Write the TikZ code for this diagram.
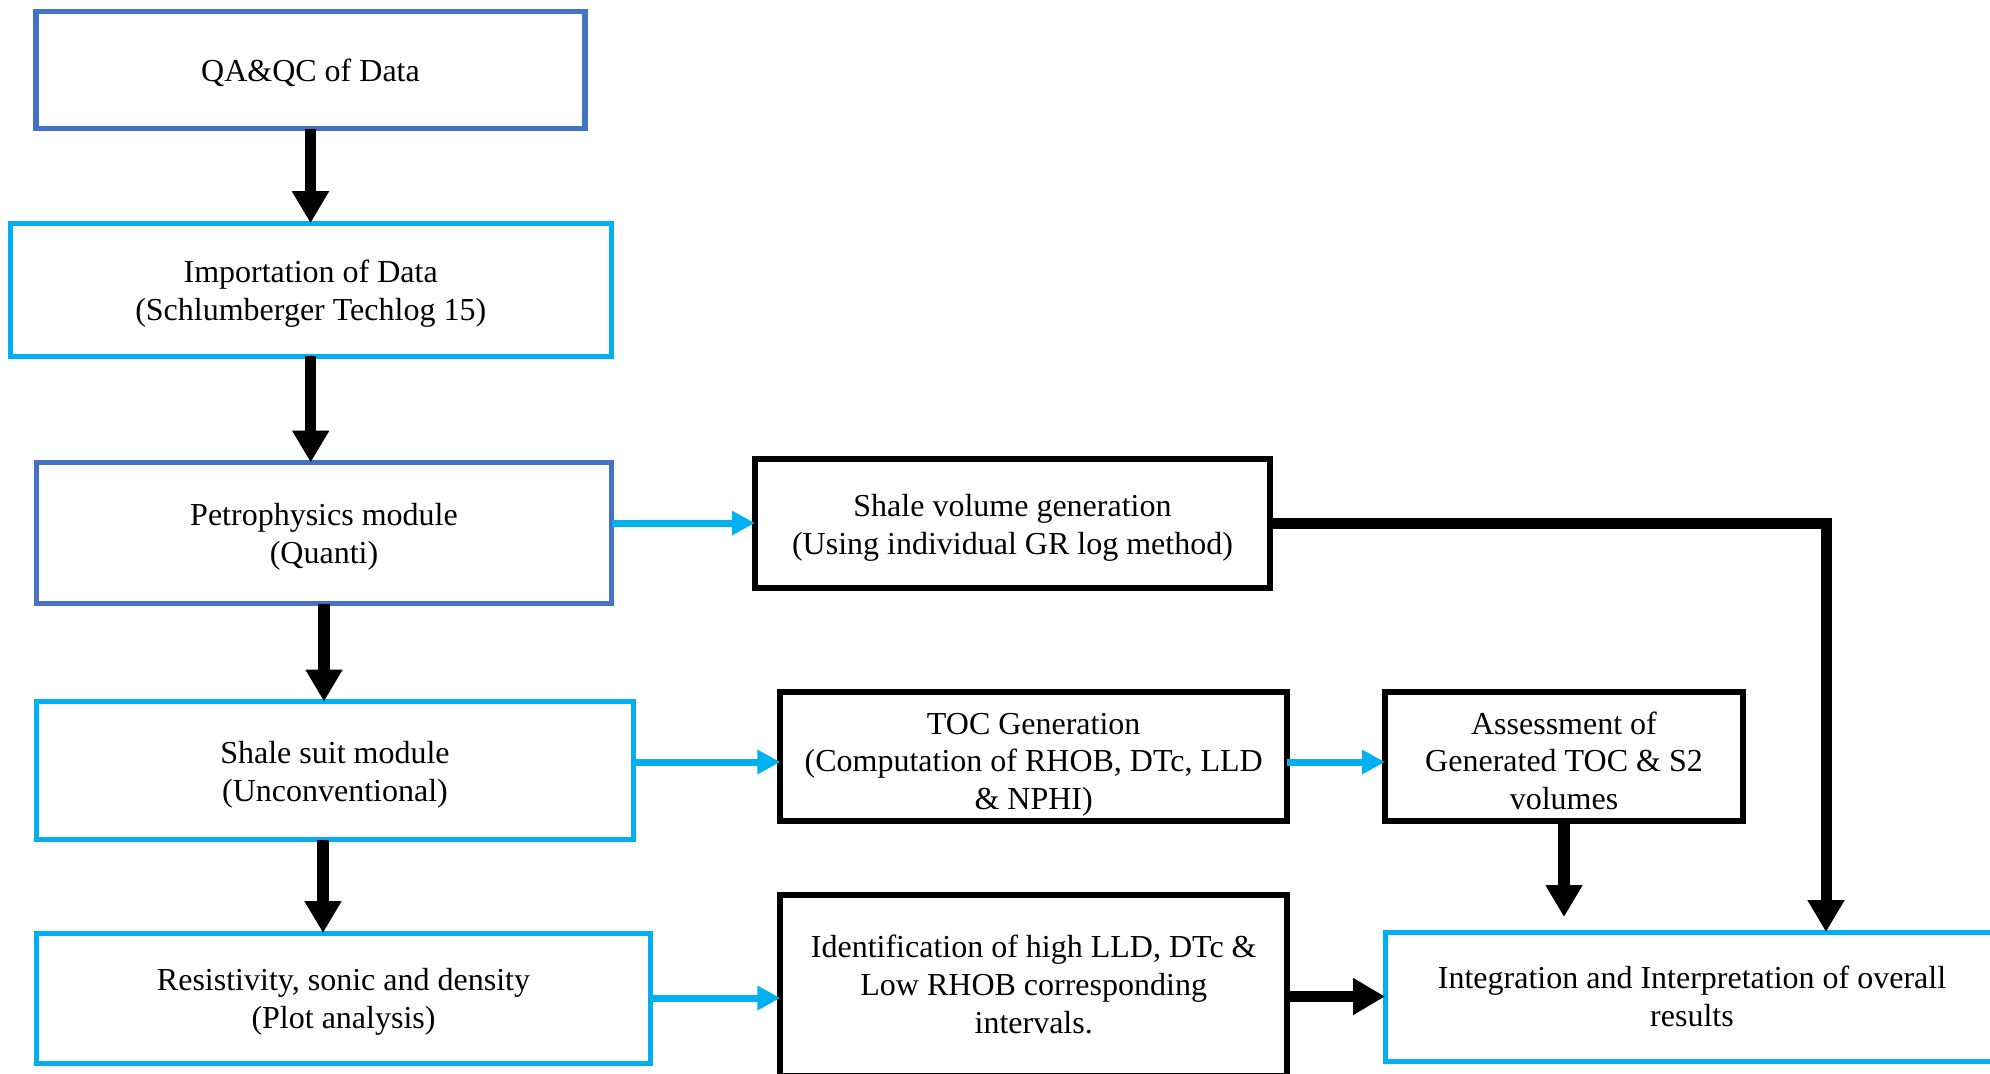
\documentclass[tikz,border=0pt]{standalone}
\usepackage{fontspec}
\setmainfont{Liberation Serif}
\usetikzlibrary{arrows.meta,calc}
\definecolor{qablue}{HTML}{4472C4}
\definecolor{skyblue}{HTML}{00B0F0}
% #1: height of the first baseline above the box centre
\newcommand\btext[2]{\raisebox{#1}[0pt][0pt]{\begin{tabular}[t]{@{}c@{}}#2\end{tabular}}}
\begin{document}
\begin{tikzpicture}[x=0.5pt,y=-0.5pt,
  box/.style={draw, rectangle, inner sep=0pt, outer sep=0pt,
    font=\fontsize{16pt}{18.9pt}\selectfont, line join=miter},
  darkbox/.style={box, draw=qablue, line width=2.75pt},
  lightbox/.style={box, draw=skyblue, line width=2.5pt},
  blackbox/.style={box, draw=black, line width=3pt},
  bigarrow/.style={draw=black, line width=5.75pt, line join=miter, -{Triangle[length=16pt,width=17.5pt]}},
  bluearrow/.style={draw=skyblue, line width=3.5pt, -{Triangle[length=11.5pt,width=11.5pt]}}]
\useasboundingbox (0,0) rectangle (1990,1073);
\clip (0,0) rectangle (1990,1073);
\node[darkbox, minimum width=274.5pt, minimum height=58.5pt] (qa) at (310.5,70) {\btext{-5.9pt}{QA\&QC of Data}};
\node[lightbox, minimum width=300.5pt, minimum height=66.5pt] (imp) at (310.7,289.7) {\btext{3.5pt}{Importation of Data\\(Schlumberger Techlog 15)}};
\node[darkbox, minimum width=287.5pt, minimum height=70.5pt] (petro) at (324,533) {\btext{3.7pt}{Petrophysics module\\(Quanti)}};
\node[lightbox, minimum width=298.5pt, minimum height=69pt] (shale) at (335,770.5) {\btext{3.6pt}{Shale suit module\\(Unconventional)}};
\node[lightbox, minimum width=307pt, minimum height=65pt] (resist) at (343.5,998) {\btext{3.6pt}{Resistivity, sonic and density\\(Plot analysis)}};
\node[blackbox, minimum width=257.5pt, minimum height=64.5pt] (svol) at (1012.5,523) {\btext{3.2pt}{Shale volume generation\\(Using individual GR log method)}};
\node[blackbox, minimum width=253.25pt, minimum height=64.5pt] (toc) at (1033.7,756.5) {\btext{11.2pt}{TOC Generation\\(Computation of RHOB, DTc, LLD\\\& NPHI)}};
\node[blackbox, minimum width=179pt, minimum height=64.5pt] (assess) at (1564,756.5) {\btext{11.2pt}{Assessment of\\Generated TOC \& S2\\volumes}};
\node[blackbox, minimum width=253.25pt, minimum height=90.5pt] (ident) at (1033.7,985) {\btext{13.8pt}{Identification of high LLD, DTc \&\\Low RHOB corresponding\\intervals.}};
\node[lightbox, minimum width=307pt, minimum height=64.5pt] (integ) at (1692,996.5) {\btext{3.9pt}{Integration and Interpretation of overall\\results}};
% vertical flow
\draw[bigarrow] (qa.south) -- (qa.south |- imp.north);
\draw[bigarrow] (imp.south) -- (imp.south |- petro.north);
\draw[bigarrow] (petro.south) -- (petro.south |- shale.north);
\draw[bigarrow] ([xshift=-6pt]shale.south) -- ([xshift=-6pt]shale.south |- resist.north);
% blue arrows
\draw[bluearrow] (petro.east |- svol.west) -- (svol.west);
\coordinate (tocin) at ($(toc.west)+(0,5.5)$);
\draw[bluearrow] (shale.east |- tocin) -- (tocin);
\draw[bluearrow] ($(toc.east)+(0,5.5)$) -- ($(assess.west)+(0,5.5)$);
\draw[bluearrow] (resist.east) -- (resist.east -| ident.west);
% black arrows into integration
\draw[bigarrow] (ident.east |- integ.west) -- (integ.west);
\coordinate (assend) at ($(assess.south |- integ.north)+(0,-15)$);
\draw[bigarrow] (assess.south) -- (assend);
\coordinate (turn) at (1826,523);
\draw[bigarrow, line width=5.5pt] (svol.east) -- (turn) -- (turn |- integ.north);
\end{tikzpicture}
\end{document}
